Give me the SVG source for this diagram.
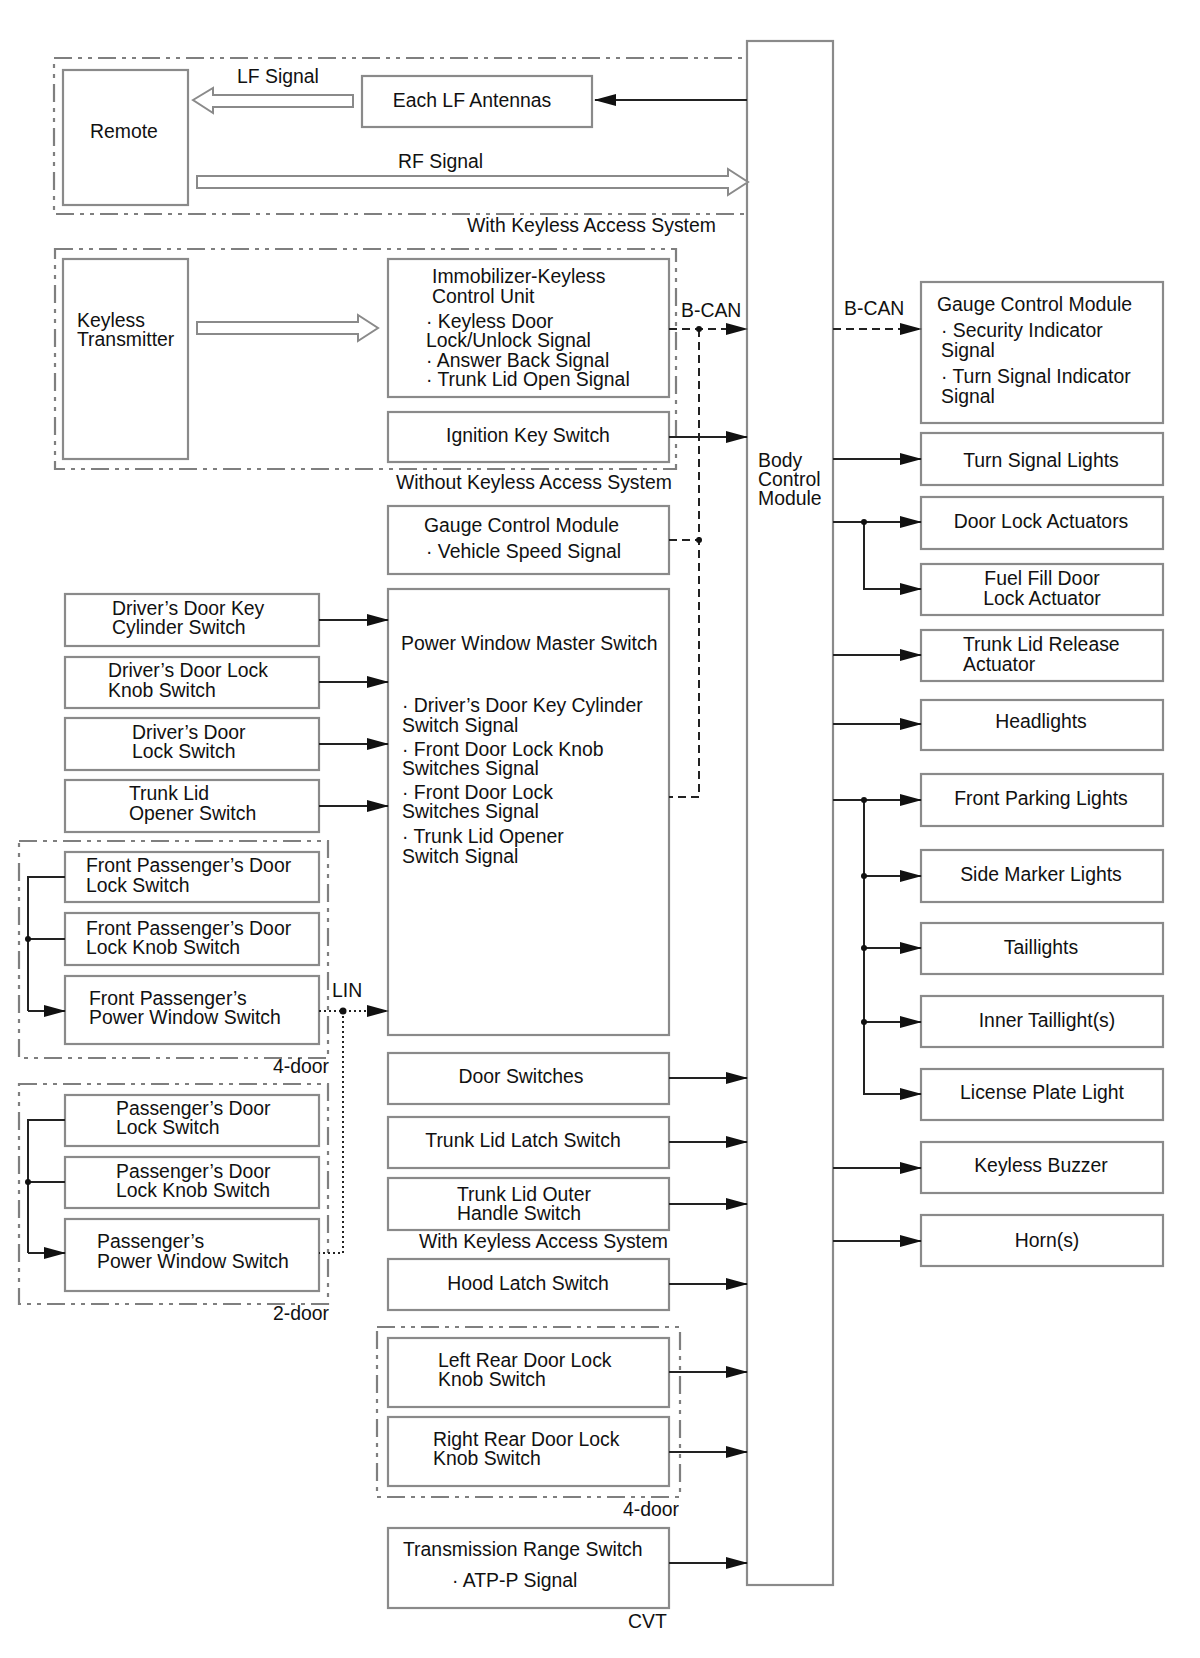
<svg xmlns="http://www.w3.org/2000/svg" width="1200" height="1658" viewBox="0 0 1200 1658">
<style>
text{font-family:"Liberation Sans",Arial,sans-serif;font-size:19.4px;fill:#111}
.m{text-anchor:middle}
.box{fill:#fff;stroke:#8a8a8a;stroke-width:2.2}
.grp{fill:none;stroke:#7f7f7f;stroke-width:2.2;stroke-dasharray:18 6 4 6 4 6}
.hol{fill:#fff;stroke:#8a8a8a;stroke-width:2}
.ln{fill:none;stroke:#222;stroke-width:2}
.arr{marker-end:url(#ah)}
.dsh{stroke-dasharray:8 5}
.dot{stroke-dasharray:2 3}
</style>
<defs>
<marker id="ah" markerWidth="22" markerHeight="12" refX="21" refY="6" orient="auto" markerUnits="userSpaceOnUse"><path d="M0,0 L22,6 L0,12 z" fill="#111"/></marker>
</defs>
<rect width="1200" height="1658" fill="#fff"/>

<g id="groups">
<rect class="grp" x="54" y="58" width="702" height="156"/>
<text x="467" y="232">With Keyless Access System</text>
<rect class="grp" x="55" y="249" width="621" height="220"/>
<text x="396" y="489">Without Keyless Access System</text>
<rect class="grp" x="19" y="841" width="309" height="217"/>
<text x="273" y="1073">4-door</text>
<rect class="grp" x="19" y="1084" width="309" height="220"/>
<text x="273" y="1320">2-door</text>
<rect class="grp" x="377" y="1327" width="303" height="170"/>
<text x="623" y="1516">4-door</text>
<text x="419" y="1248">With Keyless Access System</text>
<text x="628" y="1628">CVT</text>
</g>

<g id="bcm"><rect class="box" x="747" y="41" width="86" height="1544"/>
<text x="758" y="467">Body</text><text x="758" y="486">Control</text><text x="758" y="505">Module</text></g>

<g id="remote"><rect class="box" x="63" y="70" width="125" height="135"/><text x="90" y="138">Remote</text></g>
<g id="lf-antennas"><rect class="box" x="362" y="76" width="230" height="51"/><text class="m" x="472" y="107">Each LF Antennas</text></g>
<g id="keyless-transmitter"><rect class="box" x="63" y="259" width="125" height="200"/><text x="77" y="327">Keyless</text><text x="77" y="346">Transmitter</text></g>
<g id="immobilizer"><rect class="box" x="388" y="259" width="281" height="138"/>
<text x="432" y="283">Immobilizer-Keyless</text><text x="432" y="303">Control Unit</text>
<text x="426" y="328">· Keyless Door</text><text x="426" y="347">Lock/Unlock Signal</text>
<text x="426" y="367">· Answer Back Signal</text><text x="426" y="386">· Trunk Lid Open Signal</text></g>
<g id="ignition"><rect class="box" x="388" y="412" width="281" height="50"/><text class="m" x="528" y="442">Ignition Key Switch</text></g>
<g id="gauge-left"><rect class="box" x="388" y="506" width="281" height="68"/><text x="424" y="532">Gauge Control Module</text><text x="426" y="558">· Vehicle Speed Signal</text></g>

<g id="drv-key"><rect class="box" x="65" y="594" width="254" height="52"/><text x="112" y="615">Driver’s Door Key</text><text x="112" y="634">Cylinder Switch</text></g>
<g id="drv-knob"><rect class="box" x="65" y="657" width="254" height="51"/><text x="108" y="677">Driver’s Door Lock</text><text x="108" y="697">Knob Switch</text></g>
<g id="drv-lock"><rect class="box" x="65" y="718" width="254" height="52"/><text x="132" y="739">Driver’s Door</text><text x="132" y="758">Lock Switch</text></g>
<g id="trunk-opener"><rect class="box" x="65" y="780" width="254" height="52"/><text x="129" y="800">Trunk Lid</text><text x="129" y="820">Opener Switch</text></g>

<g id="pw-master"><rect class="box" x="388" y="589" width="281" height="446"/>
<text x="401" y="650">Power Window Master Switch</text>
<text x="402" y="712">· Driver’s Door Key Cylinder</text><text x="402" y="732">Switch Signal</text>
<text x="402" y="756">· Front Door Lock Knob</text><text x="402" y="775">Switches Signal</text>
<text x="402" y="799">· Front Door Lock</text><text x="402" y="818">Switches Signal</text>
<text x="402" y="843">· Trunk Lid Opener</text><text x="402" y="863">Switch Signal</text></g>

<g id="fp-lock"><rect class="box" x="65" y="852" width="254" height="50"/><text x="86" y="872">Front Passenger’s Door</text><text x="86" y="892">Lock Switch</text></g>
<g id="fp-knob"><rect class="box" x="65" y="913" width="254" height="52"/><text x="86" y="935">Front Passenger’s Door</text><text x="86" y="954">Lock Knob Switch</text></g>
<g id="fp-pw"><rect class="box" x="65" y="976" width="254" height="68"/><text x="89" y="1005">Front Passenger’s</text><text x="89" y="1024">Power Window Switch</text></g>
<g id="p-lock"><rect class="box" x="65" y="1095" width="254" height="51"/><text x="116" y="1115">Passenger’s Door</text><text x="116" y="1134">Lock Switch</text></g>
<g id="p-knob"><rect class="box" x="65" y="1157" width="254" height="51"/><text x="116" y="1178">Passenger’s Door</text><text x="116" y="1197">Lock Knob Switch</text></g>
<g id="p-pw"><rect class="box" x="65" y="1219" width="254" height="72"/><text x="97" y="1248">Passenger’s</text><text x="97" y="1268">Power Window Switch</text></g>

<g id="door-switches"><rect class="box" x="388" y="1053" width="281" height="51"/><text class="m" x="521" y="1083">Door Switches</text></g>
<g id="trunk-latch"><rect class="box" x="388" y="1117" width="281" height="51"/><text class="m" x="523" y="1147">Trunk Lid Latch Switch</text></g>
<g id="trunk-outer"><rect class="box" x="388" y="1178" width="281" height="52"/><text x="457" y="1201">Trunk Lid Outer</text><text x="457" y="1220">Handle Switch</text></g>
<g id="hood-latch"><rect class="box" x="388" y="1259" width="281" height="51"/><text class="m" x="528" y="1290">Hood Latch Switch</text></g>
<g id="lr-knob"><rect class="box" x="388" y="1338" width="281" height="69"/><text x="438" y="1367">Left Rear Door Lock</text><text x="438" y="1386">Knob Switch</text></g>
<g id="rr-knob"><rect class="box" x="388" y="1417" width="281" height="69"/><text x="433" y="1446">Right Rear Door Lock</text><text x="433" y="1465">Knob Switch</text></g>
<g id="trans-range"><rect class="box" x="388" y="1528" width="281" height="80"/><text x="403" y="1556">Transmission Range Switch</text><text x="452" y="1587">· ATP-P Signal</text></g>

<g id="gauge-right"><rect class="box" x="921" y="282" width="242" height="141"/>
<text x="937" y="311">Gauge Control Module</text>
<text x="941" y="337">· Security Indicator</text><text x="941" y="357">Signal</text>
<text x="941" y="383">· Turn Signal Indicator</text><text x="941" y="403">Signal</text></g>
<g id="turn-lights"><rect class="box" x="921" y="433" width="242" height="52"/><text class="m" x="1041" y="467">Turn Signal Lights</text></g>
<g id="door-lock-act"><rect class="box" x="921" y="497" width="242" height="52"/><text class="m" x="1041" y="528">Door Lock Actuators</text></g>
<g id="fuel-door"><rect class="box" x="921" y="564" width="242" height="51"/><text class="m" x="1042" y="585">Fuel Fill Door</text><text class="m" x="1042" y="605">Lock Actuator</text></g>
<g id="trunk-release"><rect class="box" x="921" y="630" width="242" height="51"/><text x="963" y="651">Trunk Lid Release</text><text x="963" y="671">Actuator</text></g>
<g id="headlights"><rect class="box" x="921" y="700" width="242" height="50"/><text class="m" x="1041" y="728">Headlights</text></g>
<g id="front-parking"><rect class="box" x="921" y="774" width="242" height="52"/><text class="m" x="1041" y="805">Front Parking Lights</text></g>
<g id="side-marker"><rect class="box" x="921" y="850" width="242" height="52"/><text class="m" x="1041" y="881">Side Marker Lights</text></g>
<g id="taillights"><rect class="box" x="921" y="923" width="242" height="51"/><text class="m" x="1041" y="954">Taillights</text></g>
<g id="inner-taillights"><rect class="box" x="921" y="996" width="242" height="51"/><text class="m" x="1047" y="1027">Inner Taillight(s)</text></g>
<g id="license-plate"><rect class="box" x="921" y="1069" width="242" height="51"/><text class="m" x="1042" y="1099">License Plate Light</text></g>
<g id="keyless-buzzer"><rect class="box" x="921" y="1142" width="242" height="51"/><text class="m" x="1041" y="1172">Keyless Buzzer</text></g>
<g id="horns"><rect class="box" x="921" y="1215" width="242" height="51"/><text class="m" x="1047" y="1247">Horn(s)</text></g>

<g id="connectors">
<polygon class="hol" points="193,100 213,88 213,95 353,95 353,107 213,107 213,113"/>
<text x="237" y="83">LF Signal</text>
<polygon class="hol" points="197,176 728,176 728,169 748,182 728,195 728,188 197,188"/>
<text x="398" y="168">RF Signal</text>
<polygon class="hol" points="197,322 358,322 358,315 378,328 358,341 358,334 197,334"/>

<line class="ln arr" x1="747" y1="100" x2="595" y2="100"/>
<text x="681" y="317">B-CAN</text>
<line class="ln arr dsh" x1="669" y1="329" x2="747" y2="329"/>
<polyline class="ln dsh" points="699,329 699,797 669,797"/>
<line class="ln dsh" x1="669" y1="540" x2="699" y2="540"/>
<circle cx="699" cy="329" r="3" fill="#111"/>
<circle cx="699" cy="540" r="3" fill="#111"/>
<line class="ln arr" x1="669" y1="437" x2="747" y2="437"/>

<line class="ln arr" x1="319" y1="620" x2="388" y2="620"/>
<line class="ln arr" x1="319" y1="682" x2="388" y2="682"/>
<line class="ln arr" x1="319" y1="744" x2="388" y2="744"/>
<line class="ln arr" x1="319" y1="806" x2="388" y2="806"/>

<polyline class="ln" points="65,877 28,877 28,1011"/>
<line class="ln" x1="28" y1="939" x2="65" y2="939"/>
<line class="ln arr" x1="28" y1="1011" x2="65" y2="1011"/>
<circle cx="28" cy="939" r="3" fill="#111"/>
<polyline class="ln" points="65,1120 28,1120 28,1253"/>
<line class="ln" x1="28" y1="1182" x2="65" y2="1182"/>
<line class="ln arr" x1="28" y1="1253" x2="65" y2="1253"/>
<circle cx="28" cy="1182" r="3" fill="#111"/>

<text x="332" y="997">LIN</text>
<line class="ln arr dot" x1="319" y1="1011" x2="388" y2="1011"/>
<polyline class="ln dot" points="343,1011 343,1253 319,1253"/>
<circle cx="343" cy="1011" r="3.5" fill="#111"/>

<line class="ln arr" x1="669" y1="1078" x2="747" y2="1078"/>
<line class="ln arr" x1="669" y1="1142" x2="747" y2="1142"/>
<line class="ln arr" x1="669" y1="1204" x2="747" y2="1204"/>
<line class="ln arr" x1="669" y1="1284" x2="747" y2="1284"/>
<line class="ln arr" x1="669" y1="1372" x2="747" y2="1372"/>
<line class="ln arr" x1="669" y1="1452" x2="747" y2="1452"/>
<line class="ln arr" x1="669" y1="1563" x2="747" y2="1563"/>

<text x="844" y="315">B-CAN</text>
<line class="ln arr dsh" x1="833" y1="329" x2="921" y2="329"/>
<line class="ln arr" x1="833" y1="459" x2="921" y2="459"/>
<line class="ln arr" x1="833" y1="522" x2="921" y2="522"/>
<polyline class="ln arr" points="864,522 864,589 921,589"/>
<circle cx="864" cy="522" r="3" fill="#111"/>
<line class="ln arr" x1="833" y1="655" x2="921" y2="655"/>
<line class="ln arr" x1="833" y1="724" x2="921" y2="724"/>
<line class="ln arr" x1="833" y1="800" x2="921" y2="800"/>
<polyline class="ln arr" points="864,800 864,1094 921,1094"/>
<line class="ln arr" x1="864" y1="876" x2="921" y2="876"/>
<line class="ln arr" x1="864" y1="948" x2="921" y2="948"/>
<line class="ln arr" x1="864" y1="1022" x2="921" y2="1022"/>
<circle cx="864" cy="800" r="3" fill="#111"/>
<circle cx="864" cy="876" r="3" fill="#111"/>
<circle cx="864" cy="948" r="3" fill="#111"/>
<circle cx="864" cy="1022" r="3" fill="#111"/>
<line class="ln arr" x1="833" y1="1168" x2="921" y2="1168"/>
<line class="ln arr" x1="833" y1="1241" x2="921" y2="1241"/>
</g>
</svg>
